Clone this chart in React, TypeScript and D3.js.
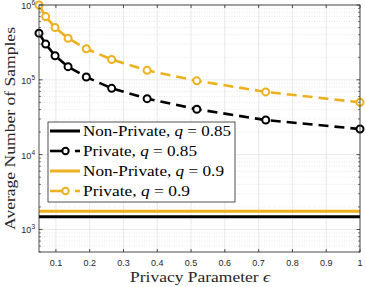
import * as d3 from 'd3'

const epsilon = [0.05, 0.0698, 0.0975, 0.136, 0.19, 0.265, 0.37, 0.517, 0.721, 1]
const privateQ85 = [4.2e5, 3.0e5, 2.1e5, 1.5e5, 1.09e5, 7.7e4, 5.6e4, 4.05e4, 2.9e4, 2.2e4]
const privateQ9 = [1.0e6, 7.0e5, 5.0e5, 3.6e5, 2.6e5, 1.87e5, 1.34e5, 9.7e4, 6.9e4, 5.0e4]
const nonPrivateQ85 = 1480
const nonPrivateQ9 = 1750
const xTicks = [0.1, 0.2, 0.3, 0.4, 0.5, 0.6, 0.7, 0.8, 0.9, 1]
const yDecades = [3, 4, 5, 6]

const BLACK = '#000000'
const GOLD = '#EDB120'
const serif = '"Liberation Serif", "DejaVu Serif", serif'
const sans = '"Liberation Sans", Arial, sans-serif'

export default function App() {
  const width = 366
  const height = 287
  const left = 39
  const right = 360
  const top = 5
  const bottom = 252

  const x = d3.scaleLinear().domain([0.05, 1]).range([left, right])
  const y = d3.scaleLog().domain([500, 1e6]).range([bottom, top])

  const minor: number[] = []
  for (let e = 2; e <= 5; e++) {
    for (let m = 2; m <= 9; m++) {
      const v = m * Math.pow(10, e)
      if (v >= 500 && v <= 1e6) minor.push(v)
    }
  }

  const line = d3
    .line<number>()
    .x((_, i) => x(epsilon[i]))
    .y((d) => y(d))

  const series = [
    { values: privateQ85, color: BLACK },
    { values: privateQ9, color: GOLD },
  ]

  const legend = [
    { label: 'Non-Private, ', q: '0.85', color: BLACK, marker: false, w: 148 },
    { label: 'Private, ', q: '0.85', color: BLACK, marker: true, w: 114 },
    { label: 'Non-Private, ', q: '0.9', color: GOLD, marker: false, w: 141 },
    { label: 'Private, ', q: '0.9', color: GOLD, marker: true, w: 107 },
  ]

  return (
    <svg
      width={width}
      height={height}
      style={{ position: 'absolute', left: 0, top: 0, background: '#fff' }}
    >
      <defs>
        <clipPath id="plot">
          <rect x={left} y={top} width={right - left} height={bottom - top} />
        </clipPath>
      </defs>
      <rect x={left} y={top} width={right - left} height={bottom - top} fill="#fff" />
      {/* grid */}
      {minor.map((v) => (
        <line
          key={`mg-${v}`}
          x1={left}
          x2={right}
          y1={y(v)}
          y2={y(v)}
          stroke="#d9d9d9"
          strokeWidth={0.6}
          strokeDasharray="1 1.5"
        />
      ))}
      {yDecades.map((e) => (
        <line
          key={`yg-${e}`}
          x1={left}
          x2={right}
          y1={y(Math.pow(10, e))}
          y2={y(Math.pow(10, e))}
          stroke="#e3e3e3"
          strokeWidth={0.8}
        />
      ))}
      {xTicks.map((t) => (
        <line key={`xg-${t}`} x1={x(t)} x2={x(t)} y1={top} y2={bottom} stroke="#e3e3e3" strokeWidth={0.8} />
      ))}

      <g clipPath="url(#plot)">
        <line x1={left} x2={right} y1={y(nonPrivateQ85)} y2={y(nonPrivateQ85)} stroke={BLACK} strokeWidth={3} />
        <line x1={left} x2={right} y1={y(nonPrivateQ9)} y2={y(nonPrivateQ9)} stroke={GOLD} strokeWidth={3} />
      </g>
      {series.map((s, k) => (
        <g key={k}>
          <path d={line(s.values) ?? ''} fill="none" stroke={s.color} strokeWidth={2.6} strokeDasharray="10 6" />
          {s.values.map((v, i) => (
            <circle key={i} cx={x(epsilon[i])} cy={y(v)} r={3.5} fill="#fff" stroke={s.color} strokeWidth={2} />
          ))}
        </g>
      ))}

      {/* axes box and ticks */}
      <rect x={left} y={top} width={right - left} height={bottom - top} fill="none" stroke="#262626" strokeWidth={0.8} />
      {xTicks.map((t) => (
        <g key={`xt-${t}`}>
          <line x1={x(t)} x2={x(t)} y1={bottom} y2={bottom - 3} stroke="#262626" strokeWidth={0.8} />
          <line x1={x(t)} x2={x(t)} y1={top} y2={top + 3} stroke="#262626" strokeWidth={0.8} />
          <text x={x(t)} y={bottom + 14} textAnchor="middle" fontFamily={sans} fontSize={9} fill="#262626">
            {t === 1 ? '1' : t.toFixed(1)}
          </text>
        </g>
      ))}
      {minor.map((v) => (
        <g key={`yt-${v}`}>
          <line x1={left} x2={left + 2} y1={y(v)} y2={y(v)} stroke="#262626" strokeWidth={0.6} />
          <line x1={right} x2={right - 2} y1={y(v)} y2={y(v)} stroke="#262626" strokeWidth={0.6} />
        </g>
      ))}
      {yDecades.map((e) => (
        <g key={`yd-${e}`}>
          <line x1={left} x2={left + 3.5} y1={y(Math.pow(10, e))} y2={y(Math.pow(10, e))} stroke="#262626" strokeWidth={0.8} />
          <line x1={right} x2={right - 3.5} y1={y(Math.pow(10, e))} y2={y(Math.pow(10, e))} stroke="#262626" strokeWidth={0.8} />
          <text x={left - 4} y={y(Math.pow(10, e)) + 4} textAnchor="end" fontFamily={sans} fontSize={9} fill="#262626">
            10
            <tspan fontSize={6.5} dy={-4}>
              {e}
            </tspan>
          </text>
        </g>
      ))}

      {/* legend */}
      <rect x={48} y={122} width={187} height={80} fill="#fff" stroke="#262626" strokeWidth={0.8} />
      {legend.map((d, i) => {
        const cy = 131 + i * 20
        return (
          <g key={i}>
            {d.marker ? (
              <g>
                <line x1={50} x2={62} y1={cy} y2={cy} stroke={d.color} strokeWidth={2.6} />
                <line x1={75} x2={80} y1={cy} y2={cy} stroke={d.color} strokeWidth={2.6} />
                <circle cx={65.5} cy={cy} r={3.2} fill="#fff" stroke={d.color} strokeWidth={2} />
              </g>
            ) : (
              <line x1={50} x2={80} y1={cy} y2={cy} stroke={d.color} strokeWidth={3} />
            )}
            <text
              x={83}
              y={cy + 5}
              fontFamily={serif}
              fontSize={15}
              fill="#000"
              textLength={d.w}
              lengthAdjust="spacingAndGlyphs"
            >
              {d.label}
              <tspan fontStyle="italic">q</tspan>
              {' = '}
              {d.q}
            </text>
          </g>
        )
      })}

      {/* axis labels */}
      <text
        x={200}
        y={282}
        textAnchor="middle"
        fontFamily={serif}
        fontSize={15}
        fill="#262626"
        textLength={140}
        lengthAdjust="spacingAndGlyphs"
      >
        Privacy Parameter <tspan fontStyle="italic">ϵ</tspan>
      </text>
      <text
        transform={`translate(15, ${(top + bottom) / 2}) rotate(-90)`}
        textAnchor="middle"
        fontFamily={serif}
        fontSize={15}
        fill="#262626"
        textLength={203}
        lengthAdjust="spacingAndGlyphs"
      >
        Average Number of Samples
      </text>
    </svg>
  )
}
